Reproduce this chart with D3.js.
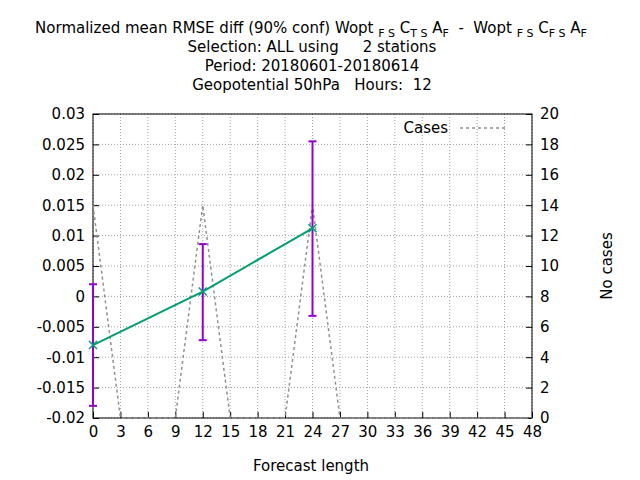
<!DOCTYPE html><html><head><meta charset="utf-8"><script src="https://cdn.jsdelivr.net/npm/d3@7"></script>
<style>body{margin:0}text{font-family:"DejaVu Sans",sans-serif;font-size:15px}</style></head><body>
<svg id="c" width="640" height="480"></svg>
<script>
const xTicks=[0,3,6,9,12,15,18,21,24,27,30,33,36,39,42,45,48];
const yTicks=[-0.02,-0.015,-0.01,-0.005,0,0.005,0.01,0.015,0.02,0.025,0.03];
const y2Ticks=[0,2,4,6,8,10,12,14,16,18,20];
const leadTimes=[0,12,24];
const meanDiff=[-0.008,0.0008,0.0112];
const errLow=[-0.018,-0.0072,-0.0032];
const errHigh=[0.002,0.0086,0.0255];
const caseX=[0,3,9,12,15,21,24,27,48];
const caseN=[14,0,0,14,0,0,14,0,0];

const svg=d3.select("#c");
const L=93,R=532,T=114,B=418;
const x=d3.scaleLinear().domain([0,48]).range([L,R]);
const y=d3.scaleLinear().domain([-0.02,0.03]).range([B,T]);
const y2=d3.scaleLinear().domain([0,20]).range([B,T]);
svg.append("rect").attr("width",640).attr("height",480).attr("fill","#fff");
const g=svg.append("g");
xTicks.forEach(t=>{g.append("line").attr("x1",x(t)).attr("x2",x(t)).attr("y1",T).attr("y2",B).attr("stroke","#a0a0a0").attr("stroke-dasharray","1,2");});
yTicks.forEach(t=>{g.append("line").attr("x1",L).attr("x2",R).attr("y1",y(t)).attr("y2",y(t)).attr("stroke","#a0a0a0").attr("stroke-dasharray","1,2");});
g.append("rect").attr("x",L).attr("y",T).attr("width",R-L).attr("height",B-T).attr("fill","none").attr("stroke","#000");
const ax=(sel,a)=>{sel.call(a);sel.select(".domain").remove();sel.selectAll("text").style("font-size","15px").style("font-family","DejaVu Sans");};
svg.append("g").attr("transform",`translate(0,${B})`).call(s=>ax(s,d3.axisBottom(x).tickValues(xTicks).tickSize(-6).tickPadding(8).tickFormat(d3.format("d"))));
svg.append("g").attr("transform",`translate(${L},0)`).call(s=>ax(s,d3.axisLeft(y).tickValues(yTicks).tickSize(-6).tickPadding(8).tickFormat(d=>d===0?"0":String(+d.toFixed(3)))));
svg.append("g").attr("transform",`translate(${R},0)`).call(s=>ax(s,d3.axisRight(y2).tickValues(y2Ticks).tickSize(-6).tickPadding(8)));
svg.append("path").datum(caseX.map((v,i)=>[v,caseN[i]])).attr("d",d3.line().x(d=>x(d[0])).y(d=>y2(d[1]))).attr("fill","none").attr("stroke","#909090").attr("stroke-width",1.5).attr("stroke-dasharray","3,3");
leadTimes.forEach((t,i)=>{
 const c="#9400d3";
 svg.append("line").attr("x1",x(t)).attr("x2",x(t)).attr("y1",y(errLow[i])).attr("y2",y(errHigh[i])).attr("stroke",c).attr("stroke-width",2);
 [errLow[i],errHigh[i]].forEach(v=>svg.append("line").attr("x1",x(t)-4).attr("x2",x(t)+4).attr("y1",y(v)).attr("y2",y(v)).attr("stroke",c).attr("stroke-width",2));
});
svg.append("path").datum(leadTimes.map((v,i)=>[v,meanDiff[i]])).attr("d",d3.line().x(d=>x(d[0])).y(d=>y(d[1]))).attr("fill","none").attr("stroke","#009e73").attr("stroke-width",2);
leadTimes.forEach((t,i)=>{const cx=x(t),cy=y(meanDiff[i]);
 svg.append("path").attr("d",`M${cx-4},${cy-4}L${cx+4},${cy+4}M${cx-4},${cy+4}L${cx+4},${cy-4}`).attr("stroke","#009e73").attr("stroke-width",1.5);});
svg.append("text").attr("x",448).attr("y",133).attr("text-anchor","end").text("Cases");
svg.append("line").attr("x1",460).attr("x2",506).attr("y1",128).attr("y2",128).attr("stroke","#909090").attr("stroke-width",1.5).attr("stroke-dasharray","3,3");
const t1=svg.append("text").attr("x",311).attr("y",33).attr("text-anchor","middle").attr("xml:space","preserve");
const parts=[["Normalized mean RMSE diff (90% conf) Wopt ",0],["F S",1],[" C",0],["T S",1],[" A",0],["F",1],["  -  Wopt ",0],["F S",1],[" C",0],["F S",1],[" A",0],["F",1]];
let prev=0;
parts.forEach(([s,sub])=>{const ts=t1.append("tspan").text(s);if(sub){ts.attr("font-size","11px").attr("dy",prev?0:4);}else{ts.attr("dy",prev?-4:0);}prev=sub;});
["Selection: ALL using     2 stations","Period: 20180601-20180614","Geopotential 50hPa   Hours:  12"].forEach((s,i)=>svg.append("text").attr("x",312).attr("y",52+i*19).attr("text-anchor","middle").attr("xml:space","preserve").text(s));
svg.append("text").attr("x",311).attr("y",471).attr("text-anchor","middle").text("Forecast length");
svg.append("text").attr("transform","translate(612,266) rotate(-90)").attr("text-anchor","middle").text("No cases");
</script></body></html>
